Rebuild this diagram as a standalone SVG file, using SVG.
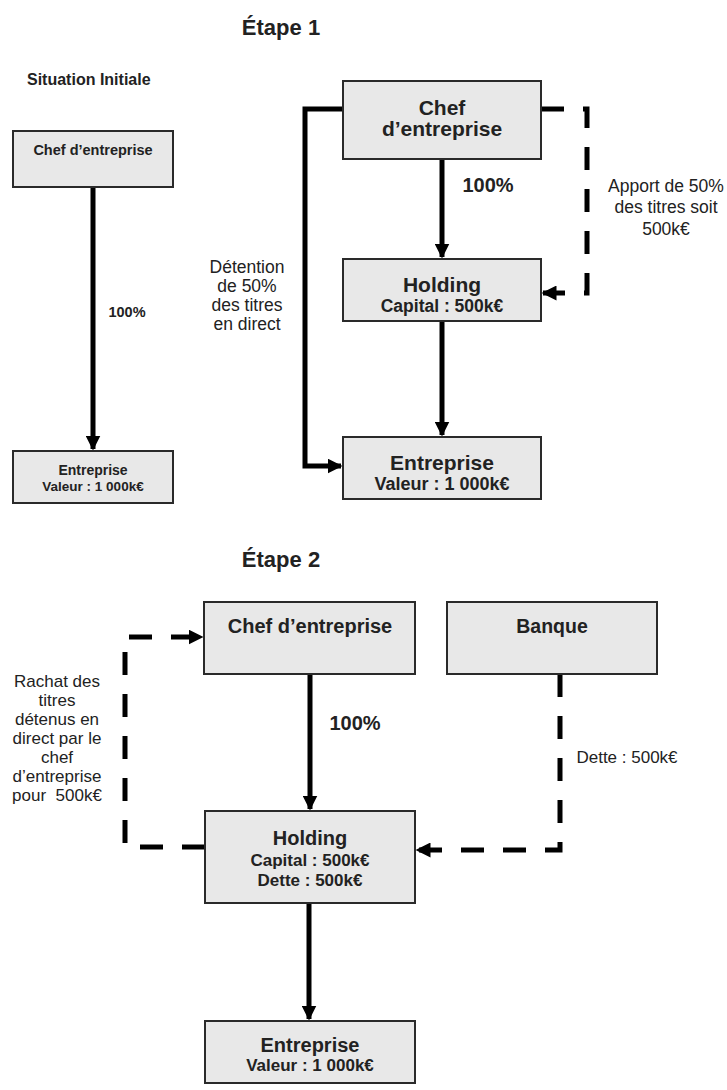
<svg xmlns="http://www.w3.org/2000/svg" width="727" height="1090" viewBox="0 0 727 1090">
<defs>
<marker id="ah" viewBox="0 0 10 10" refX="9" refY="5" markerWidth="3" markerHeight="3" orient="auto" markerUnits="strokeWidth">
<path d="M0,0 L10,5 L0,10 z" fill="#000"/>
</marker>
</defs>
<style>
.box{fill:#e8e8e8;stroke:#2a2a2a;stroke-width:2}
.t{font-family:"Liberation Sans",Arial,sans-serif;fill:#222;text-anchor:middle}
.b{font-weight:bold}
.ln{fill:none;stroke:#000;stroke-width:5}
.ds{fill:none;stroke:#000;stroke-width:5;stroke-dasharray:23 19}
</style>
<rect width="727" height="1090" fill="#fff"/>
<text class="t b" x="281" y="35" font-size="22">Étape 1</text>
<text class="t b" x="27" y="85" font-size="16" style="text-anchor:start">Situation Initiale</text>
<text class="t b" x="281" y="567" font-size="22">Étape 2</text>

<g id="connectors">
<path class="ln" d="M93,187 V449" marker-end="url(#ah)"/>
<path class="ln" d="M442,159 V257" marker-end="url(#ah)"/>
<path class="ln" d="M442,321 V435" marker-end="url(#ah)"/>
<path class="ln" d="M343,109 H305 V466 H341" marker-end="url(#ah)"/>
<path class="ds" d="M541,109 H587 V293 H543" marker-end="url(#ah)"/>
<path class="ln" d="M310,674 V809" marker-end="url(#ah)"/>
<path class="ln" d="M309,903 V1019" marker-end="url(#ah)"/>
<path class="ds" d="M205,847 H125 V637 H202" marker-end="url(#ah)"/>
<path class="ds" d="M560,674 V850 H417" marker-end="url(#ah)"/>
<text class="t b" x="127" y="317" font-size="14.5">100%</text>
<text class="t b" x="488" y="192" font-size="20">100%</text>
<text class="t" x="666" y="192" font-size="17.5">Apport de 50%</text>
<text class="t" x="666" y="213" font-size="17.5">des titres soit</text>
<text class="t" x="666" y="235" font-size="17.5">500k€</text>
<text class="t" x="247" y="273" font-size="17.5">Détention</text>
<text class="t" x="247" y="292" font-size="17.5">de 50%</text>
<text class="t" x="247" y="311" font-size="17.5">des titres</text>
<text class="t" x="247" y="330" font-size="17.5">en direct</text>
<text class="t b" x="355" y="730" font-size="20">100%</text>
<text class="t" x="627" y="763" font-size="17">Dette : 500k€</text>
<text class="t" x="57" y="687" font-size="17">Rachat des</text>
<text class="t" x="57" y="706" font-size="17">titres</text>
<text class="t" x="57" y="725" font-size="17">détenus en</text>
<text class="t" x="57" y="744" font-size="17">direct par le</text>
<text class="t" x="57" y="763" font-size="17">chef</text>
<text class="t" x="57" y="782" font-size="17">d’entreprise</text>
<text class="t" x="57" y="801" font-size="17" xml:space="preserve">pour  500k€</text>
</g>

<g id="si-chef">
<rect class="box" x="13" y="131" width="160" height="56"/>
<text class="t b" x="93" y="155" font-size="14.5">Chef d’entreprise</text>
</g>
<g id="si-entreprise">
<rect class="box" x="13" y="451" width="160" height="52"/>
<text class="t b" x="93" y="475" font-size="14">Entreprise</text>
<text class="t b" x="93" y="491" font-size="13.5">Valeur : 1 000k€</text>
</g>

<g id="e1-chef">
<rect class="box" x="343" y="81" width="198" height="78"/>
<text class="t b" x="442" y="115" font-size="21">Chef</text>
<text class="t b" x="442" y="136" font-size="21">d’entreprise</text>
</g>
<g id="e1-holding">
<rect class="box" x="343" y="259" width="198" height="62"/>
<text class="t b" x="442" y="292" font-size="21">Holding</text>
<text class="t b" x="442" y="312" font-size="17.5">Capital : 500k€</text>
</g>
<g id="e1-entreprise">
<rect class="box" x="343" y="437" width="198" height="62"/>
<text class="t b" x="442" y="470" font-size="21">Entreprise</text>
<text class="t b" x="442" y="490" font-size="18">Valeur : 1 000k€</text>
</g>

<g id="e2-chef">
<rect class="box" x="204" y="602" width="211" height="72"/>
<text class="t b" x="310" y="633" font-size="20">Chef d’entreprise</text>
</g>
<g id="e2-banque">
<rect class="box" x="447" y="602" width="210" height="72"/>
<text class="t b" x="552" y="633" font-size="19.5">Banque</text>
</g>
<g id="e2-holding">
<rect class="box" x="205" y="811" width="210" height="92"/>
<text class="t b" x="310" y="845" font-size="20">Holding</text>
<text class="t b" x="310" y="866" font-size="17">Capital : 500k€</text>
<text class="t b" x="310" y="886" font-size="17">Dette : 500k€</text>
</g>
<g id="e2-entreprise">
<rect class="box" x="205" y="1021" width="210" height="62"/>
<text class="t b" x="310" y="1052" font-size="20">Entreprise</text>
<text class="t b" x="310" y="1071" font-size="17">Valeur : 1 000k€</text>
</g>
</svg>
